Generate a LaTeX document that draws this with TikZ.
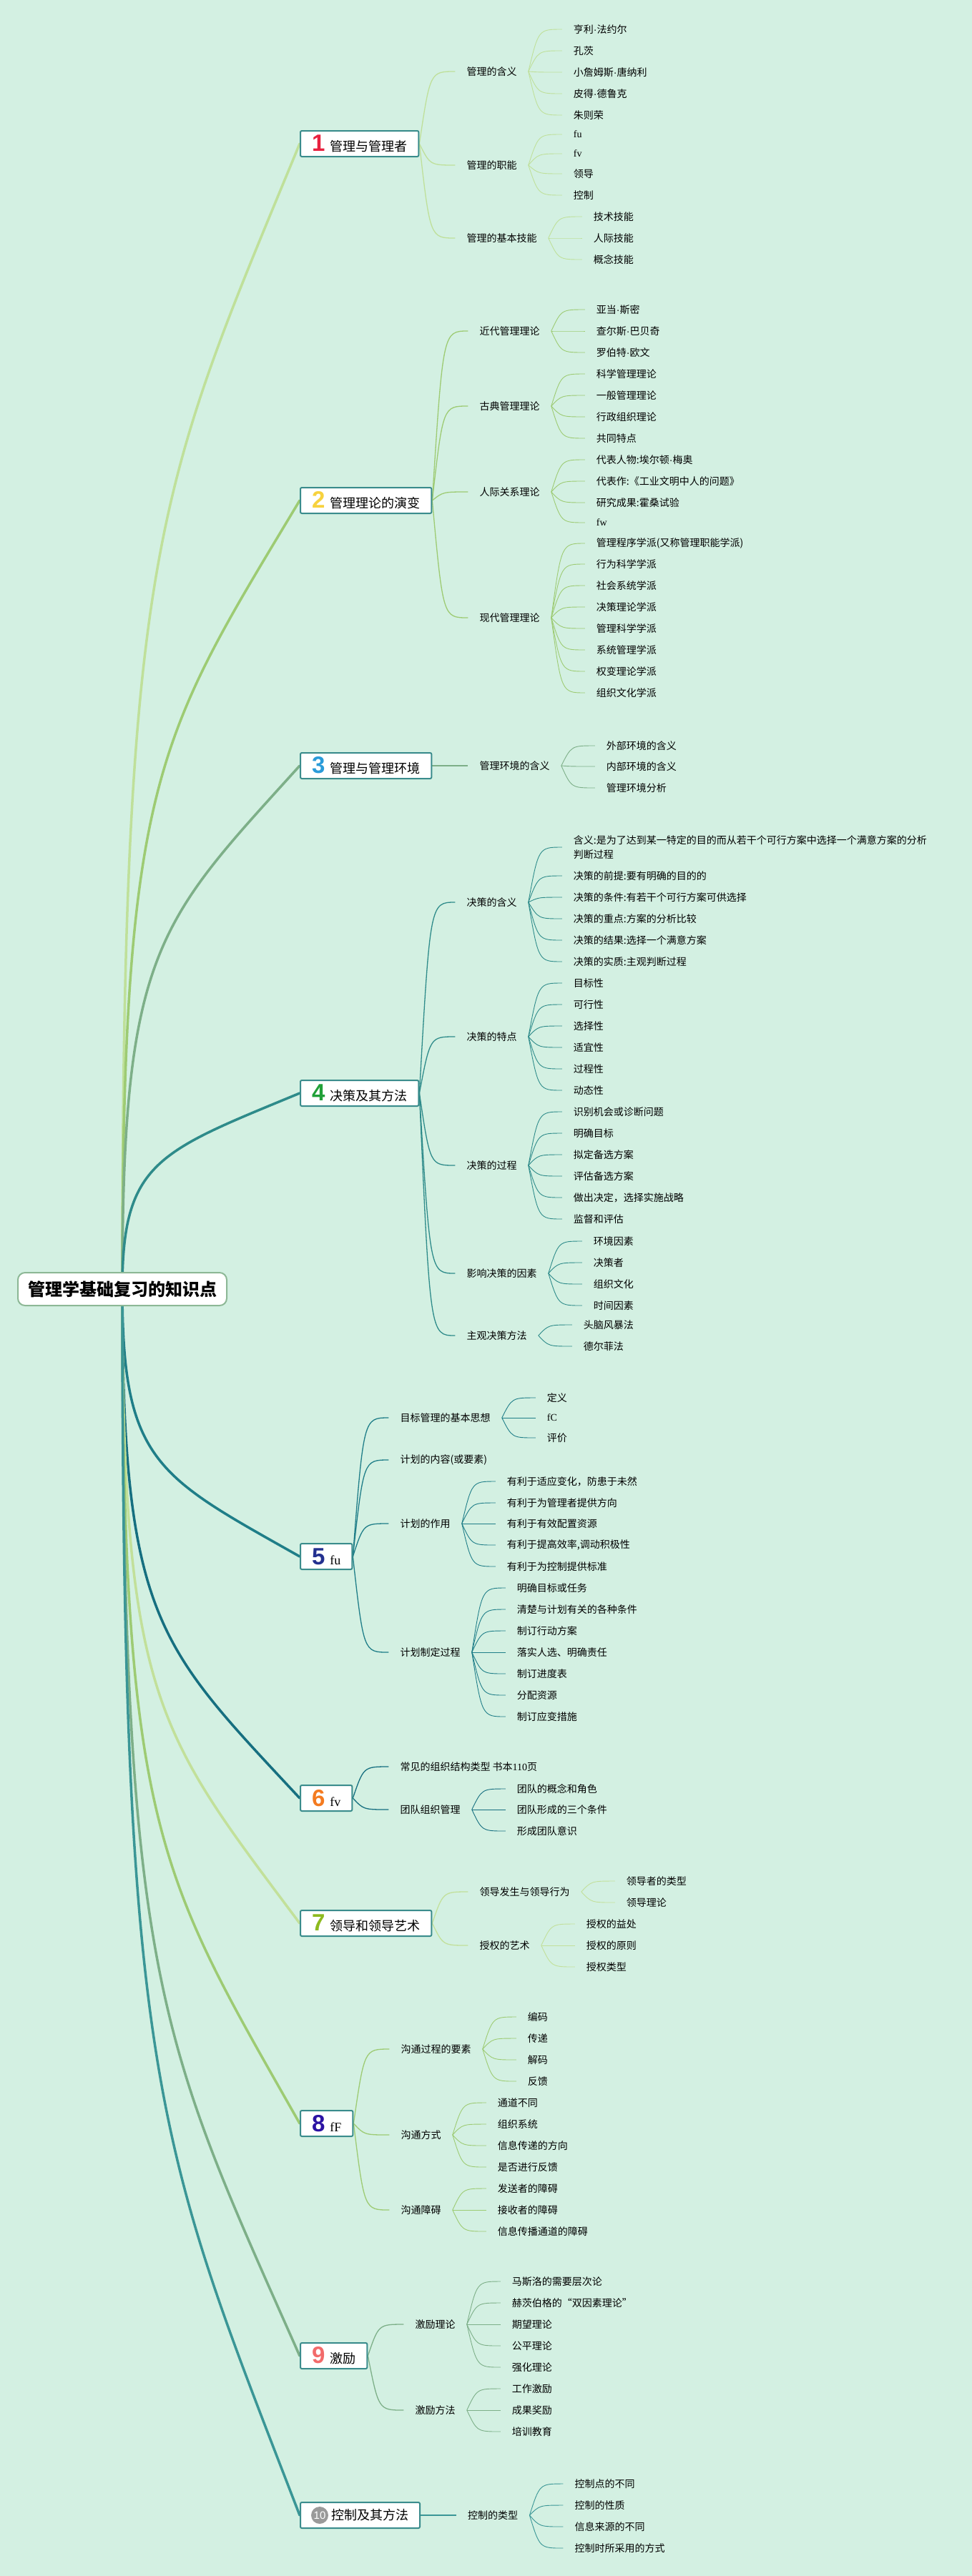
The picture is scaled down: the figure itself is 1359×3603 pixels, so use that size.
\documentclass[tikz,border=0pt]{standalone}
\usepackage{fontspec}
\setmainfont{Noto Sans CJK SC}
\newfontfamily\lat{Liberation Serif}
\newfontfamily\numf{Liberation Sans}
\usetikzlibrary{calc}
\pgfdeclarelayer{background}
\pgfsetlayers{background,main}
\definecolor{bgc}{RGB}{211,240,226}
\definecolor{boxc}{HTML}{3A8C8C}
\definecolor{rootc}{HTML}{8DB896}
\definecolor{c1}{HTML}{BFE09A}
\definecolor{c2}{HTML}{9DCB73}
\definecolor{c3}{HTML}{7DAF88}
\definecolor{c4}{HTML}{2E8B8A}
\definecolor{c5}{HTML}{1F7E88}
\definecolor{c6}{HTML}{166F80}
\definecolor{c7}{HTML}{C2E09A}
\definecolor{c8}{HTML}{9DCB73}
\definecolor{c9}{HTML}{7DAF88}
\definecolor{c10}{HTML}{3A9696}
\definecolor{n1}{HTML}{E8213F}
\definecolor{n2}{HTML}{F7D23E}
\definecolor{n3}{HTML}{2A9BD9}
\definecolor{n4}{HTML}{21A038}
\definecolor{n5}{HTML}{23308F}
\definecolor{n6}{HTML}{F47B20}
\definecolor{n7}{HTML}{8DBA1E}
\definecolor{n8}{HTML}{2B12A3}
\definecolor{n9}{HTML}{F26B6B}
\definecolor{n10}{HTML}{9A9A9A}
\colorlet{cur}{c1}
\newcommand\dt{{\numf ·}}
\newcommand\bnum[2]{{\numf\bfseries\fontsize{33}{33}\selectfont\color{#1}#2}\hspace{7pt}}
\newcommand\midn[4]{%
  \path (0,#3) coordinate (tmp);
  \node[midnode, xshift=50pt] (#1) at (#2.east |- tmp) {#4};
  \begin{pgfonlayer}{background}
  \draw[midline] (#2.east) .. controls ($(#2.east |- #1.west)!0.3!(#1.west)$) .. (#1.west);
  \end{pgfonlayer}}
\newcommand\lfn[4]{%
  \path (0,#3) coordinate (tmp);
  \node[midnode, xshift=47pt] (#1) at (#2.east |- tmp) {#4};
  \begin{pgfonlayer}{background}
  \draw[leafline] (#2.east) .. controls ($(#2.east |- #1.west)!0.3!(#1.west)$) .. (#1.west);
  \end{pgfonlayer}}
\newcommand\mainlink[2]{%
  \begin{pgfonlayer}{background}
  \coordinate (qc#1) at ($(root.center)!0.65!(root.center |- #1.west)$);
  \coordinate (qa#1) at ($(root.center |- #1.west)!0.3!(root.center)$);
  \coordinate (qb#1) at ($(root.center)!0.2!(#1.west)$);
  \draw[mainline, draw=#2] (root.center) .. controls (qc#1) and (qb#1 |- qa#1) .. (#1.west);
  \end{pgfonlayer}}
\tikzset{
  box/.style={draw=boxc, line width=2pt, fill=white, rounded corners=2pt, inner xsep=16pt, inner ysep=0pt, minimum height=36pt, anchor=west, font=\fontsize{18}{20}\selectfont},
  rootbox/.style={draw=rootc, line width=2pt, fill=white, rounded corners=10pt, inner xsep=14pt, inner ysep=0pt, minimum height=46pt, font=\bfseries\fontsize{24}{28}\selectfont},
  midnode/.style={anchor=west, inner xsep=16pt, inner ysep=2pt, font=\fontsize{14}{20}\selectfont, align=left},
  midline/.style={draw=cur, line width=1.3pt},
  leafline/.style={draw=cur, line width=0.9pt},
  mainline/.style={line width=3.5pt, line cap=round}
}
\begin{document}
\begin{tikzpicture}[x=1pt, y=-1pt]
\begin{pgfonlayer}{background}
\fill[bgc] (0,0) rectangle (1359,3603);
\end{pgfonlayer}
\useasboundingbox (0,0) rectangle (1359,3603);

\node[rootbox] (root) at (171,1803) {管理学基础复习的知识点};

% ---------- 1
\colorlet{cur}{c1}
\node[box] (b1) at (419,201) {\bnum{n1}{1}管理与管理者};
\mainlink{b1}{c1}
\midn{b1a}{b1}{100}{管理的含义}
\lfn{b1a1}{b1a}{41}{亨利\dt 法约尔}
\lfn{b1a2}{b1a}{71}{孔茨}
\lfn{b1a3}{b1a}{101}{小詹姆斯\dt 唐纳利}
\lfn{b1a4}{b1a}{131}{皮得\dt 德鲁克}
\lfn{b1a5}{b1a}{161}{朱则荣}
\midn{b1b}{b1}{231}{管理的职能}
\lfn{b1b1}{b1b}{188}{\lat fu}
\lfn{b1b2}{b1b}{215}{\lat fv}
\lfn{b1b3}{b1b}{243}{领导}
\lfn{b1b4}{b1b}{273}{控制}
\midn{b1c}{b1}{333}{管理的基本技能}
\lfn{b1c1}{b1c}{303}{技术技能}
\lfn{b1c2}{b1c}{333}{人际技能}
\lfn{b1c3}{b1c}{363}{概念技能}

% ---------- 2
\colorlet{cur}{c2}
\node[box] (b2) at (419,700) {\bnum{n2}{2}管理理论的演变};
\mainlink{b2}{c2}
\midn{b2a}{b2}{463}{近代管理理论}
\lfn{b2a1}{b2a}{433}{亚当\dt 斯密}
\lfn{b2a2}{b2a}{463}{查尔斯\dt 巴贝奇}
\lfn{b2a3}{b2a}{493}{罗伯特\dt 欧文}
\midn{b2b}{b2}{568}{古典管理理论}
\lfn{b2b1}{b2b}{523}{科学管理理论}
\lfn{b2b2}{b2b}{553}{一般管理理论}
\lfn{b2b3}{b2b}{583}{行政组织理论}
\lfn{b2b4}{b2b}{613}{共同特点}
\midn{b2c}{b2}{688}{人际关系理论}
\lfn{b2c1}{b2c}{643}{代表人物:埃尔顿\dt 梅奥}
\lfn{b2c2}{b2c}{673}{代表作:《工业文明中人的问题》}
\lfn{b2c3}{b2c}{703}{研究成果:霍桑试验}
\lfn{b2c4}{b2c}{731}{\lat fw}
\midn{b2d}{b2}{864}{现代管理理论}
\lfn{b2d1}{b2d}{760}{管理程序学派(又称管理职能学派)}
\lfn{b2d2}{b2d}{789}{行为科学学派}
\lfn{b2d3}{b2d}{819}{社会系统学派}
\lfn{b2d4}{b2d}{849}{决策理论学派}
\lfn{b2d5}{b2d}{879}{管理科学学派}
\lfn{b2d6}{b2d}{909}{系统管理学派}
\lfn{b2d7}{b2d}{939}{权变理论学派}
\lfn{b2d8}{b2d}{969}{组织文化学派}

% ---------- 3
\colorlet{cur}{c3}
\node[box] (b3) at (419,1071) {\bnum{n3}{3}管理与管理环境};
\mainlink{b3}{c3}
\midn{b3a}{b3}{1071}{管理环境的含义}
\lfn{b3a1}{b3a}{1043}{外部环境的含义}
\lfn{b3a2}{b3a}{1072}{内部环境的含义}
\lfn{b3a3}{b3a}{1102}{管理环境分析}

% ---------- 4
\colorlet{cur}{c4}
\node[box] (b4) at (419,1529) {\bnum{n4}{4}决策及其方法};
\mainlink{b4}{c4}
\midn{b4a}{b4}{1262}{决策的含义}
\lfn{b4a1}{b4a}{1185}{含义:是为了达到某一特定的目的而从若干个可行方案中选择一个满意方案的分析\\判断过程}
\lfn{b4a2}{b4a}{1225}{决策的前提:要有明确的目的的}
\lfn{b4a3}{b4a}{1255}{决策的条件:有若干个可行方案可供选择}
\lfn{b4a4}{b4a}{1285}{决策的重点:方案的分析比较}
\lfn{b4a5}{b4a}{1315}{决策的结果:选择一个满意方案}
\lfn{b4a6}{b4a}{1345}{决策的实质:主观判断过程}
\midn{b4b}{b4}{1450}{决策的特点}
\lfn{b4b1}{b4b}{1375}{目标性}
\lfn{b4b2}{b4b}{1405}{可行性}
\lfn{b4b3}{b4b}{1435}{选择性}
\lfn{b4b4}{b4b}{1465}{适宜性}
\lfn{b4b5}{b4b}{1495}{过程性}
\lfn{b4b6}{b4b}{1525}{动态性}
\midn{b4c}{b4}{1630}{决策的过程}
\lfn{b4c1}{b4c}{1555}{识别机会或诊断问题}
\lfn{b4c2}{b4c}{1585}{明确目标}
\lfn{b4c3}{b4c}{1615}{拟定备选方案}
\lfn{b4c4}{b4c}{1645}{评估备选方案}
\lfn{b4c5}{b4c}{1675}{做出决定，选择实施战略}
\lfn{b4c6}{b4c}{1705}{监督和评估}
\midn{b4d}{b4}{1781}{影响决策的因素}
\lfn{b4d1}{b4d}{1736}{环境因素}
\lfn{b4d2}{b4d}{1766}{决策者}
\lfn{b4d3}{b4d}{1796}{组织文化}
\lfn{b4d4}{b4d}{1826}{时间因素}
\midn{b4e}{b4}{1868}{主观决策方法}
\lfn{b4e1}{b4e}{1853}{头脑风暴法}
\lfn{b4e2}{b4e}{1883}{德尔菲法}

% ---------- 5
\colorlet{cur}{c5}
\node[box] (b5) at (419,2177) {\bnum{n5}{5}{\lat fu}};
\mainlink{b5}{c5}
\midn{b5a}{b5}{1983}{目标管理的基本思想}
\lfn{b5a1}{b5a}{1955}{定义}
\lfn{b5a2}{b5a}{1983}{\lat fC}
\lfn{b5a3}{b5a}{2011}{评价}
\midn{b5b}{b5}{2042}{计划的内容(或要素)}
\midn{b5c}{b5}{2131}{计划的作用}
\lfn{b5c1}{b5c}{2072}{有利于适应变化，防患于未然}
\lfn{b5c2}{b5c}{2102}{有利于为管理者提供方向}
\lfn{b5c3}{b5c}{2131}{有利于有效配置资源}
\lfn{b5c4}{b5c}{2161}{有利于提高效率,调动积极性}
\lfn{b5c5}{b5c}{2191}{有利于为控制提供标准}
\midn{b5d}{b5}{2311}{计划制定过程}
\lfn{b5d1}{b5d}{2221}{明确目标或任务}
\lfn{b5d2}{b5d}{2251}{清楚与计划有关的各种条件}
\lfn{b5d3}{b5d}{2281}{制订行动方案}
\lfn{b5d4}{b5d}{2311}{落实人选、明确责任}
\lfn{b5d5}{b5d}{2341}{制订进度表}
\lfn{b5d6}{b5d}{2371}{分配资源}
\lfn{b5d7}{b5d}{2401}{制订应变措施}

% ---------- 6
\colorlet{cur}{c6}
\node[box] (b6) at (419,2515) {\bnum{n6}{6}{\lat fv}};
\mainlink{b6}{c6}
\midn{b6a}{b6}{2471}{常见的组织结构类型 书本{\lat 110}页}
\midn{b6b}{b6}{2531}{团队组织管理}
\lfn{b6b1}{b6b}{2502}{团队的概念和角色}
\lfn{b6b2}{b6b}{2531}{团队形成的三个条件}
\lfn{b6b3}{b6b}{2561}{形成团队意识}

% ---------- 7
\colorlet{cur}{c7}
\node[box] (b7) at (419,2690) {\bnum{n7}{7}领导和领导艺术};
\mainlink{b7}{c7}
\midn{b7a}{b7}{2646}{领导发生与领导行为}
\lfn{b7a1}{b7a}{2631}{领导者的类型}
\lfn{b7a2}{b7a}{2661}{领导理论}
\midn{b7b}{b7}{2721}{授权的艺术}
\lfn{b7b1}{b7b}{2691}{授权的益处}
\lfn{b7b2}{b7b}{2721}{授权的原则}
\lfn{b7b3}{b7b}{2751}{授权类型}

% ---------- 8
\colorlet{cur}{c8}
\node[box] (b8) at (419,2970) {\bnum{n8}{8}{\lat fF}};
\mainlink{b8}{c8}
\midn{b8a}{b8}{2866}{沟通过程的要素}
\lfn{b8a1}{b8a}{2821}{编码}
\lfn{b8a2}{b8a}{2851}{传递}
\lfn{b8a3}{b8a}{2881}{解码}
\lfn{b8a4}{b8a}{2911}{反馈}
\midn{b8b}{b8}{2986}{沟通方式}
\lfn{b8b1}{b8b}{2941}{通道不同}
\lfn{b8b2}{b8b}{2971}{组织系统}
\lfn{b8b3}{b8b}{3001}{信息传递的方向}
\lfn{b8b4}{b8b}{3031}{是否进行反馈}
\midn{b8c}{b8}{3091}{沟通障碍}
\lfn{b8c1}{b8c}{3061}{发送者的障碍}
\lfn{b8c2}{b8c}{3091}{接收者的障碍}
\lfn{b8c3}{b8c}{3121}{信息传播通道的障碍}

% ---------- 9
\colorlet{cur}{c9}
\node[box] (b9) at (419,3295) {\bnum{n9}{9}激励};
\mainlink{b9}{c9}
\midn{b9a}{b9}{3251}{激励理论}
\lfn{b9a1}{b9a}{3191}{马斯洛的需要层次论}
\lfn{b9a2}{b9a}{3221}{赫茨伯格的“双因素理论”}
\lfn{b9a3}{b9a}{3251}{期望理论}
\lfn{b9a4}{b9a}{3281}{公平理论}
\lfn{b9a5}{b9a}{3311}{强化理论}
\midn{b9b}{b9}{3371}{激励方法}
\lfn{b9b1}{b9b}{3341}{工作激励}
\lfn{b9b2}{b9b}{3371}{成果奖励}
\lfn{b9b3}{b9b}{3401}{培训教育}

% ---------- 10
\colorlet{cur}{c10}
\node[box] (b10) at (419,3518) {\hspace{27pt}控制及其方法};
\node[circle, fill=n10, text=white, inner sep=0pt, minimum size=24pt, font=\numf\fontsize{15}{15}\selectfont] (b10i) at ([xshift=28pt]b10.west) {10};
\mainlink{b10}{c10}
\midn{b10a}{b10}{3518}{控制的类型}
\lfn{b10a1}{b10a}{3474}{控制点的不同}
\lfn{b10a2}{b10a}{3504}{控制的性质}
\lfn{b10a3}{b10a}{3534}{信息来源的不同}
\lfn{b10a4}{b10a}{3564}{控制时所采用的方式}
\end{tikzpicture}
\end{document}
